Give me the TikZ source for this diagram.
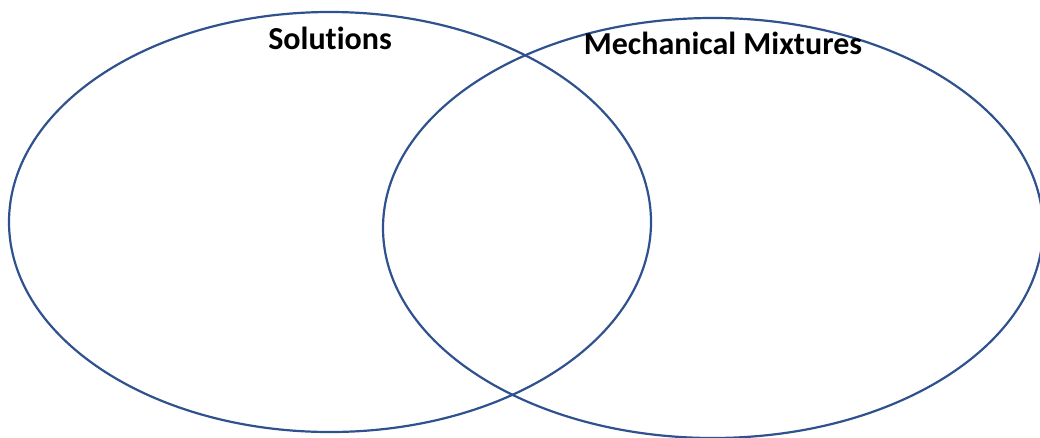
\documentclass[tikz,border=0pt]{standalone}
\usepackage{fontspec}
\setmainfont[Ligatures=NoCommon]{Carlito}
\usetikzlibrary{positioning}
\definecolor{VennBlue}{RGB}{47, 82, 143}

\begin{document}
\begin{tikzpicture}[x=1pt, y=-1pt, line width=2.2pt,
    setlabel/.style={anchor=base, font=\fontsize{32}{38}\selectfont\bfseries}]
        % Picture frame
        \useasboundingbox (0,0) rectangle (1040,437);
        \clip (0,0) rectangle (1040,437);
        
        % The two sets
        \draw [VennBlue] (330,222) ellipse [x radius=321, y radius=210];
        \draw [VennBlue] (713,228) ellipse [x radius=330, y radius=210];
        
        % Set names
        \node [setlabel] (solutions) at (330,49) {Solutions};
        \node [setlabel] (mixtures) at (723,54) {Mechanical Mixtures};
    \end{tikzpicture}
\end{document}
